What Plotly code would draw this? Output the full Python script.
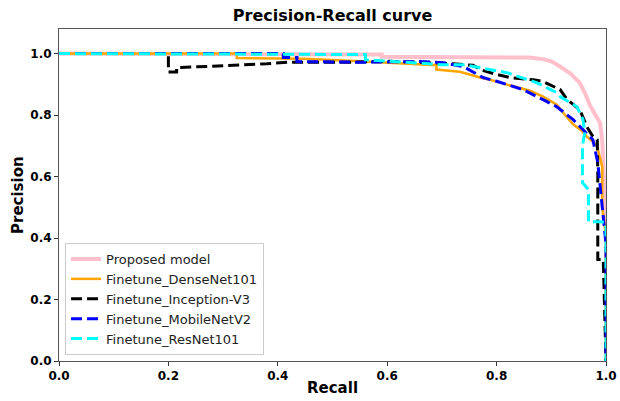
import plotly.graph_objects as go

# ---- data ----
prop_r = [0, 0.41, 0.41, 0.59, 0.59, 0.79, 0.79, 0.86, 0.885, 0.90, 0.916, 0.935, 0.952, 0.962, 0.971, 0.98, 0.989, 0.993, 0.995, 0.998, 1.0, 1.0]
prop_p = [1.0, 1.0, 0.997, 0.997, 0.99, 0.99, 0.987, 0.987, 0.982, 0.975, 0.958, 0.935, 0.905, 0.87, 0.83, 0.80, 0.775, 0.72, 0.645, 0.55, 0.45, 0.0]

dense_r = [0, 0.325, 0.325, 0.45, 0.55, 0.62, 0.69, 0.69, 0.733, 0.77, 0.788, 0.819, 0.861, 0.885, 0.91, 0.925, 0.94, 0.955, 0.965, 0.975, 0.984, 0.993, 0.993, 1.0, 1.0]
dense_p = [1.0, 1.0, 0.986, 0.983, 0.975, 0.968, 0.962, 0.948, 0.941, 0.922, 0.915, 0.899, 0.879, 0.86, 0.834, 0.80, 0.77, 0.75, 0.73, 0.715, 0.697, 0.632, 0.50, 0.404, 0.0]

incep_r = [0, 0.2, 0.2, 0.215, 0.215, 0.3, 0.38, 0.417, 0.532, 0.605, 0.68, 0.72, 0.757, 0.77, 0.80, 0.824, 0.867, 0.885, 0.916, 0.929, 0.952, 0.965, 0.976, 0.984, 0.985, 0.985, 0.995, 1.0]
incep_p = [1.0, 1.0, 0.94, 0.94, 0.954, 0.96, 0.967, 0.972, 0.972, 0.975, 0.97, 0.967, 0.962, 0.948, 0.932, 0.922, 0.915, 0.909, 0.883, 0.85, 0.818, 0.762, 0.73, 0.72, 0.61, 0.33, 0.33, 0.0]

mobile_r = [0, 0.41, 0.41, 0.435, 0.435, 0.55, 0.66, 0.703, 0.739, 0.757, 0.775, 0.80, 0.819, 0.848, 0.885, 0.91, 0.94, 0.958, 0.976, 0.985, 0.99, 0.998, 1.0, 1.0]
mobile_p = [1.0, 1.0, 0.987, 0.987, 0.974, 0.972, 0.974, 0.97, 0.958, 0.94, 0.922, 0.91, 0.899, 0.883, 0.85, 0.827, 0.785, 0.752, 0.72, 0.645, 0.55, 0.394, 0.38, 0.0]

res_r = [0, 0.435, 0.56, 0.56, 0.70, 0.739, 0.819, 0.874, 0.91, 0.916, 0.947, 0.958, 0.961, 0.957, 0.957, 0.968, 0.968, 0.99, 1.0, 1.0]
res_p = [1.0, 0.997, 0.997, 0.98, 0.964, 0.964, 0.938, 0.905, 0.873, 0.86, 0.827, 0.785, 0.743, 0.70, 0.58, 0.557, 0.453, 0.453, 0.45, 0.0]

tick_vals = [0.0, 0.2, 0.4, 0.6, 0.8, 1.0]
tick_text = ["0.0", "0.2", "0.4", "0.6", "0.8", "1.0"]

fig = go.Figure()
fig.add_trace(go.Scatter(x=prop_r, y=prop_p, mode="lines", name="Proposed model",
                         line=dict(color="pink", width=4)))
fig.add_trace(go.Scatter(x=dense_r, y=dense_p, mode="lines", name="Finetune_DenseNet101",
                         line=dict(color="orange", width=2.5)))
fig.add_trace(go.Scatter(x=incep_r, y=incep_p, mode="lines", name="Finetune_Inception-V3",
                         line=dict(color="black", width=3, dash="11px,5px")))
fig.add_trace(go.Scatter(x=mobile_r, y=mobile_p, mode="lines", name="Finetune_MobileNetV2",
                         line=dict(color="blue", width=3, dash="11px,5px")))
fig.add_trace(go.Scatter(x=res_r, y=res_p, mode="lines", name="Finetune_ResNet101",
                         line=dict(color="cyan", width=3, dash="11px,5px")))

tickfont = dict(family="DejaVu Sans", size=12, color="black", weight="bold")
axis_common = dict(showgrid=False, zeroline=False, showline=True, mirror=True,
                   linecolor="#555", linewidth=1, ticks="outside", ticklen=4,
                   tickcolor="#333", tickfont=tickfont, tickvals=tick_vals, ticktext=tick_text,
                   automargin=False)

fig.update_layout(
    width=620, height=401,
    margin=dict(l=59, r=14, t=29, b=40),
    paper_bgcolor="white", plot_bgcolor="white",
    xaxis=dict(range=[0, 1], **axis_common),
    yaxis=dict(range=[0, 1.08], **axis_common),
    title=dict(text="Precision-Recall curve", x=0.5365, xanchor="center", y=1 - 15 / 401,
               yanchor="middle", font=dict(family="DejaVu Sans", size=16, color="black", weight="bold")),
    showlegend=True,
    legend=dict(x=0.011, y=0.018, xanchor="left", yanchor="bottom",
                bgcolor="rgba(255,255,255,0.8)", bordercolor="#ccc", borderwidth=1,
                font=dict(family="DejaVu Sans", size=13, color="#222"),
                itemwidth=30, tracegroupgap=0),
    annotations=[
        dict(text="Recall", xref="paper", yref="paper", x=0.5, y=-(388 - 361) / 332,
             xanchor="center", yanchor="middle", showarrow=False,
             font=dict(family="DejaVu Sans", size=15, color="black", weight="bold")),
        dict(text="Precision", xref="paper", yref="paper", x=-(59 - 18) / 547, y=0.5,
             xanchor="center", yanchor="middle", showarrow=False, textangle=-90,
             font=dict(family="DejaVu Sans", size=15, color="black", weight="bold")),
    ],
)

fig.write_html("out.html")
